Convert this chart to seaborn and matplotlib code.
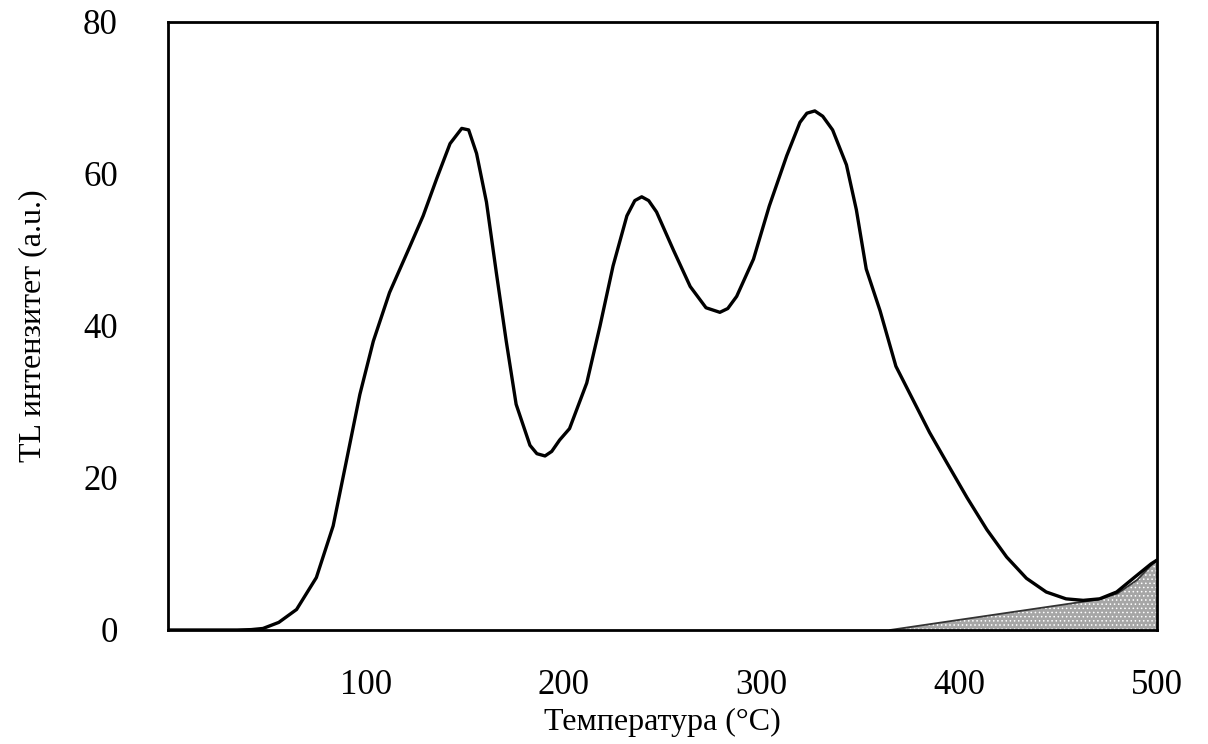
import matplotlib
matplotlib.use("Agg")
import matplotlib.pyplot as plt
import seaborn as sns
import pandas as pd

# TL glow curve
temperature = [0, 20, 35, 42, 48, 56, 65, 75, 83.5, 90, 97, 103.8, 112, 122, 129, 136,
               142.6, 148.5, 152, 156, 161, 166, 171, 176, 183, 186.5, 190.6, 194, 198,
               203, 211.7, 218.4, 225, 232, 236, 239.5, 243, 247, 255.5, 264, 272, 279,
               283, 287.5, 296, 304, 312.8, 319.5, 323, 327, 331, 336, 343, 348, 353,
               360, 368, 377, 385, 394, 404, 414, 424, 434, 444, 454, 462.7, 471,
               479.6, 488, 497, 500]
intensity = [0, 0, 0, 0.05, 0.2, 1.0, 2.7, 6.9, 13.7, 22, 31, 38, 44.4, 50.3, 54.5, 59.5,
             64, 66, 65.8, 62.7, 56.3, 47, 38, 29.7, 24.3, 23.2, 22.9, 23.5, 25,
             26.5, 32.5, 40, 47.9, 54.5, 56.5, 57, 56.5, 55, 50, 45.2, 42.4, 41.8,
             42.3, 43.9, 48.8, 55.8, 62.4, 66.8, 68, 68.3, 67.6, 65.8, 61.2, 55.3, 47.5,
             42, 34.7, 30.1, 26, 21.9, 17.4, 13.2, 9.6, 6.8, 5, 4.1, 3.9, 4.1,
             5, 6.8, 8.7, 9.2]

# shaded background (black-body) component
bg_temperature = [365, 462, 470, 480, 490, 497, 500]
bg_intensity = [0, 3.7, 4.0, 4.8, 6.6, 8.5, 9.2]

x_ticks = [100, 200, 300, 400, 500]
y_ticks = [0, 20, 40, 60, 80]

sns.set_style("white")
plt.rcParams['font.family'] = ['Liberation Serif', 'DejaVu Serif']
plt.rcParams['hatch.color'] = '#6e6e6e'
plt.rcParams['hatch.linewidth'] = 0.6

fig = plt.figure(figsize=(12.08, 7.44), dpi=100)
ax = fig.add_axes([168/1208, 1 - 630/744, (1157-168)/1208, (630-22)/744])

bg = pd.DataFrame({"T": bg_temperature, "I": bg_intensity})
ax.fill_between(bg["T"], 0, bg["I"], facecolor="#a6a6a6", edgecolor="none",
                hatch="....", linewidth=0)
sns.lineplot(data=bg, x="T", y="I", ax=ax, color="#333333", linewidth=1.3)

df = pd.DataFrame({"T": temperature, "I": intensity})
sns.lineplot(data=df, x="T", y="I", ax=ax, color="black", linewidth=2.4)

ax.set_xlim(0, 500)
ax.set_ylim(0, 80)
ax.set_xticks([0] + x_ticks)
ax.set_xticklabels([""] + [str(v) for v in x_ticks])
ax.set_yticks(y_ticks)
ax.set_yticklabels([str(v) for v in y_ticks])

for s in ax.spines.values():
    s.set_visible(True)
    s.set_color("black")
    s.set_linewidth(2)

ax.tick_params(axis="both", direction="out", length=6, width=1.2, colors="black",
               labelsize=25)
ax.tick_params(axis="x", pad=22)
ax.tick_params(axis="y", pad=30)

ax.set_xlabel("Температура (°C)", fontsize=23, labelpad=4, color="black")
ax.set_ylabel("TL интензитет (a.u.)", fontsize=23, labelpad=26, color="black")

fig.savefig("out.png", dpi=100, facecolor="white")
